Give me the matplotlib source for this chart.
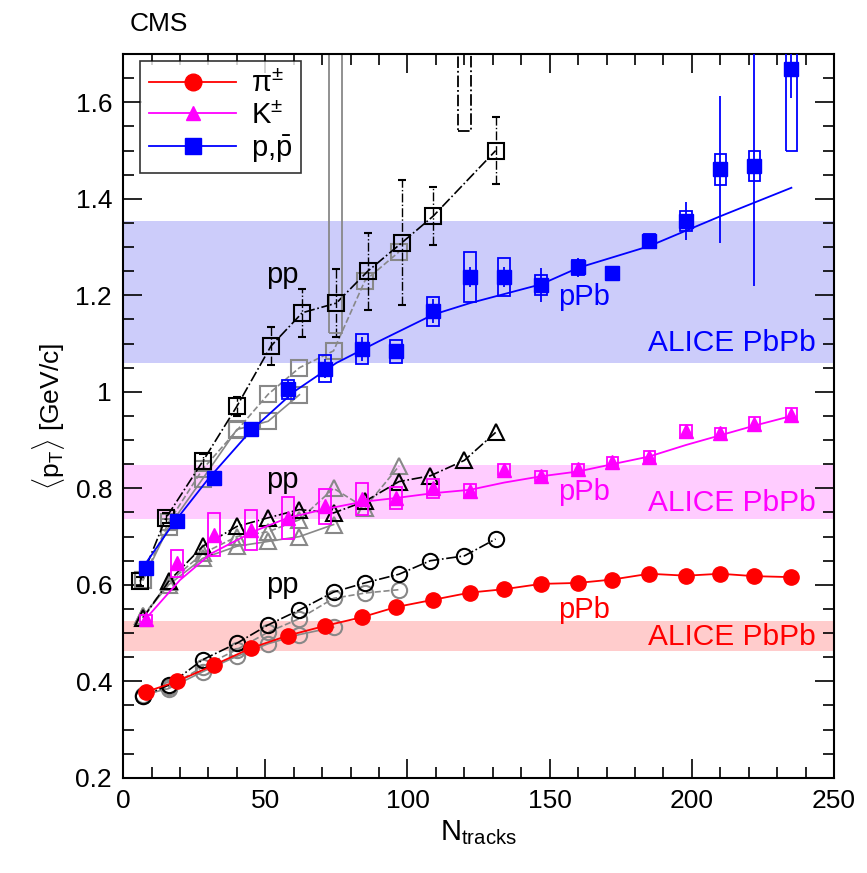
import numpy as np
import matplotlib
matplotlib.use('Agg')
import matplotlib.pyplot as plt
from matplotlib.patches import Rectangle
from matplotlib.ticker import MultipleLocator, FuncFormatter

plt.rcParams['font.family'] = ['Liberation Sans', 'DejaVu Sans']
plt.rcParams['mathtext.fontset'] = 'custom'
plt.rcParams['mathtext.rm'] = 'Liberation Sans'
plt.rcParams['mathtext.it'] = 'Liberation Sans:italic'

# pPb data (x = Ntracks)
x_pPb = [8, 19, 32, 45, 58, 71, 84, 96, 109, 122, 134, 147, 160, 172, 185, 198, 210, 222, 235]
pi_pPb = [0.378, 0.400, 0.434, 0.469, 0.495, 0.515, 0.533, 0.554, 0.569, 0.584, 0.591, 0.602,
          0.604, 0.611, 0.623, 0.619, 0.623, 0.618, 0.616]
k_pPb = [0.530, 0.645, 0.704, 0.714, 0.738, 0.763, 0.778, 0.780, 0.800, 0.795, 0.839, 0.825,
         0.840, 0.854, 0.865, 0.918, 0.914, 0.934, 0.953]
k_pPb_sys = [0.008, 0.028, 0.044, 0.042, 0.044, 0.036, 0.033, 0.022, 0.019, 0.014, 0.012, 0.010,
             0.010, 0.010, 0.012, 0.014, 0.012, 0.014, 0.014]
p_pPb = [0.635, 0.732, 0.822, 0.922, 1.005, 1.048, 1.088, 1.084, 1.167, 1.238, 1.238, 1.222,
         1.258, 1.247, 1.313, 1.354, 1.461, 1.469, 1.670]
p_pPb_sys = [0.010, 0.010, 0.010, 0.012, 0.020, 0.028, 0.031, 0.024, 0.030, 0.052, 0.040, 0.021,
             0.015, 0.012, 0.015, 0.020, 0.032, 0.031, 0.170]
p_pPb_stat = [0.005, 0.005, 0.008, 0.010, 0.020, 0.020, 0.025, 0.015, 0.025, 0.020, 0.020, 0.035,
              0.020, 0.010, 0.015, 0.040, 0.153, 0.250, 0.060]

# fit curves
k_fit_x = [8, 20, 31, 46, 58, 71, 84, 96, 109, 122, 134, 147, 160, 172, 185, 198, 210, 222, 235]
k_fit_y = [0.530, 0.610, 0.665, 0.711, 0.739, 0.757, 0.772, 0.780, 0.790, 0.797, 0.812, 0.825,
           0.835, 0.850, 0.866, 0.890, 0.910, 0.930, 0.950]
p_fit_x = [8, 18, 30, 45, 60, 75, 90, 109, 122, 147, 160, 185, 210, 235]
p_fit_y = [0.645, 0.730, 0.820, 0.920, 1.000, 1.060, 1.105, 1.160, 1.184, 1.223, 1.257, 1.302, 1.364, 1.423]

# pp data: 7 TeV (black), 2.76 TeV (grey dashed), 0.9 TeV (grey solid)
x_pp7 = [7, 16, 28, 40, 51, 62, 74, 85, 97, 108, 120, 131]
pi_pp7 = [0.370, 0.392, 0.445, 0.479, 0.517, 0.548, 0.585, 0.604, 0.622, 0.650, 0.660, 0.695]
k_pp7 = [0.531, 0.607, 0.680, 0.721, 0.739, 0.756, 0.749, 0.773, 0.814, 0.826, 0.858, 0.916]
x_p_pp7 = [6, 15, 28, 40, 52, 63, 75, 86, 98, 109, 131]
p_pp7 = [0.607, 0.738, 0.856, 0.970, 1.095, 1.164, 1.184, 1.250, 1.309, 1.364, 1.500]
p_pp7_stat = [0.01, 0.01, 0.015, 0.02, 0.04, 0.05, 0.07, 0.08, 0.13, 0.06, 0.07]

x_pp2 = [7, 16, 28, 40, 51, 62, 74, 85, 97]
pi_pp2 = [0.370, 0.388, 0.430, 0.466, 0.502, 0.530, 0.572, 0.583, 0.590]
k_pp2 = [0.535, 0.605, 0.665, 0.700, 0.710, 0.735, 0.800, 0.760, 0.846]
p_pp2 = [0.610, 0.730, 0.840, 0.920, 0.995, 1.050, 1.085, 1.230, 1.290]

x_pp09 = [7, 16, 28, 40, 51, 62, 74]
pi_pp09 = [0.372, 0.385, 0.420, 0.452, 0.478, 0.497, 0.512]
k_pp09 = [0.535, 0.600, 0.655, 0.680, 0.690, 0.700, 0.725]
p_pp09 = [0.610, 0.720, 0.820, 0.922, 0.939, 0.994]

# off-scale systematic boxes (x, low, high)
off_x = [74.8, 120.0]
off_lo = [1.122, 1.540]
off_hi = [1.90, 1.90]
off_col = ['#888888', 'black']

# ALICE PbPb bands (low, high), pions / kaons / protons
band_lo = [0.462, 0.737, 1.059]
band_hi = [0.526, 0.849, 1.354]
band_col = ['#ffcccc', '#ffccff', '#ccccfa']
txt_col = ['red', 'magenta', 'blue']
pp_txt_y = [0.600, 0.818, 1.243]
pPb_txt_y = [0.548, 0.793, 1.196]
alice_txt_y = [0.492, 0.770, 1.102]

fig = plt.figure(figsize=(8.67, 8.73), dpi=100)
ax = fig.add_axes([0.142, 0.109, 0.820, 0.829])

for lo, hi, c in zip(band_lo, band_hi, band_col):
    ax.axhspan(lo, hi, color=c, lw=0, zorder=0)

grey = '#888888'
bw = 4.0


def boxes(xs, ys, errs, color, ls='-', z=3):
    for xi, yi, e in zip(xs, ys, errs):
        ax.add_patch(Rectangle((xi - bw / 2, yi - e), bw, 2 * e, fill=False,
                               edgecolor=color, lw=1.3, ls=ls, zorder=z))


mk = dict(mfc='none', ms=11, mew=1.5)
# pp 0.9 TeV
ax.plot(x_pp09, pi_pp09, '-', color=grey, lw=1.2, marker='o', mec=grey, zorder=2, **mk)
ax.plot(x_pp09, k_pp09, '-', color=grey, lw=1.2, marker='^', mec=grey, zorder=2, **mk)
ax.plot(x_pp09[:6], p_pp09, '-', color=grey, lw=1.2, marker='s', mec=grey, zorder=2, **mk)
# pp 2.76 TeV
ax.plot(x_pp2, pi_pp2, '--', color=grey, lw=1.2, marker='o', mec=grey, zorder=2, **mk)
ax.plot(x_pp2, k_pp2, '--', color=grey, lw=1.2, marker='^', mec=grey, zorder=2, **mk)
ax.plot(x_pp2, p_pp2, '--', color=grey, lw=1.2, marker='s', mec=grey, zorder=2, **mk)
# pp 7 TeV
ax.plot(x_pp7, pi_pp7, '-.', color='black', lw=1.2, marker='o', mec='black', zorder=2.5, **mk)
ax.plot(x_pp7, k_pp7, '-.', color='black', lw=1.2, marker='^', mec='black', zorder=2.5, **mk)
eb = ax.errorbar(x_p_pp7, p_pp7, yerr=p_pp7_stat, fmt='s', mec='black', ecolor='black',
                 elinewidth=1.0, capsize=3, zorder=2.5, **mk)
eb[2][0].set_linestyle('-.')
ax.plot(x_p_pp7, p_pp7, '-.', color='black', lw=1.2, zorder=2.5)

for xo, lo, hi, c in zip(off_x, off_lo, off_hi, off_col):
    ax.add_patch(Rectangle((xo - 2.3, lo), 4.6, hi - lo, fill=False, edgecolor=c, lw=1.3,
                           ls='-' if c != 'black' else '-.', zorder=2.5))

# pPb
ax.plot(x_pPb, pi_pPb, '-', color='red', lw=1.3, zorder=4)
ax.plot(x_pPb, pi_pPb, 'o', color='red', ms=11, zorder=5)

boxes(x_pPb, k_pPb, k_pPb_sys, 'magenta')
ax.plot(k_fit_x, k_fit_y, '-', color='magenta', lw=1.3, zorder=4)
ax.plot(x_pPb, k_pPb, '^', color='magenta', ms=9.5, zorder=5)

boxes(x_pPb, p_pPb, p_pPb_sys, 'blue')
ax.plot(p_fit_x, p_fit_y, '-', color='blue', lw=1.3, zorder=4)
ax.errorbar(x_pPb, p_pPb, yerr=p_pPb_stat, fmt='s', color='blue', ms=10.5, ecolor='blue',
            elinewidth=1.3, capsize=0, zorder=5)

# legend handles
h1, = ax.plot([], [], '-', color='red', marker='o', ms=12, lw=1.3)
h2, = ax.plot([], [], '-', color='magenta', marker='^', ms=10, lw=1.3)
h3, = ax.plot([], [], '-', color='blue', marker='s', ms=12, lw=1.3)
leg = ax.legend([h1, h2, h3], [r'π$^{\pm}$', r'K$^{\pm}$', r'p,$\bar{\mathrm{p}}$'],
                loc='upper left', bbox_to_anchor=(0.024, 0.99), fontsize=21, frameon=True,
                fancybox=False, edgecolor='black', borderpad=0.3, labelspacing=0.12,
                handlelength=3.0, handletextpad=0.5, borderaxespad=0)
leg.get_frame().set_linewidth(1.2)
leg.set_zorder(10)

# text labels
for yv in pp_txt_y:
    ax.text(56, yv, 'pp', fontsize=21, color='black', ha='center', va='center', zorder=6)
for yv, c in zip(pPb_txt_y, txt_col):
    ax.text(162, yv, 'pPb', fontsize=21, color=c, ha='center', va='center', zorder=6)
for yv, c in zip(alice_txt_y, txt_col):
    ax.text(243.5, yv, 'ALICE PbPb', fontsize=21.5, color=c, ha='right', va='center', zorder=6)

ax.set_xlim(0, 250)
ax.set_ylim(0.2, 1.7)
ax.xaxis.set_major_locator(MultipleLocator(50))
ax.xaxis.set_minor_locator(MultipleLocator(10))
ax.yaxis.set_major_locator(MultipleLocator(0.2))
ax.yaxis.set_minor_locator(MultipleLocator(0.05))
ax.yaxis.set_major_formatter(FuncFormatter(lambda v, p: '%g' % round(v, 2)))
ax.tick_params(which='both', direction='in', top=True, right=True, labelsize=19, width=1.2)
ax.tick_params(which='major', length=14, pad=8)
ax.tick_params(which='minor', length=8)
for s in ax.spines.values():
    s.set_linewidth(1.5)

ax.set_xlabel(r'N$_{\mathrm{tracks}}$', fontsize=21, labelpad=4)
ax.set_ylabel(r'$\langle$p$_{\mathrm{T}}\rangle$ [GeV/c]', fontsize=19, labelpad=6)
fig.text(0.15, 0.972, 'CMS', fontsize=19, ha='left', va='center')

fig.savefig('out.png', dpi=100)
